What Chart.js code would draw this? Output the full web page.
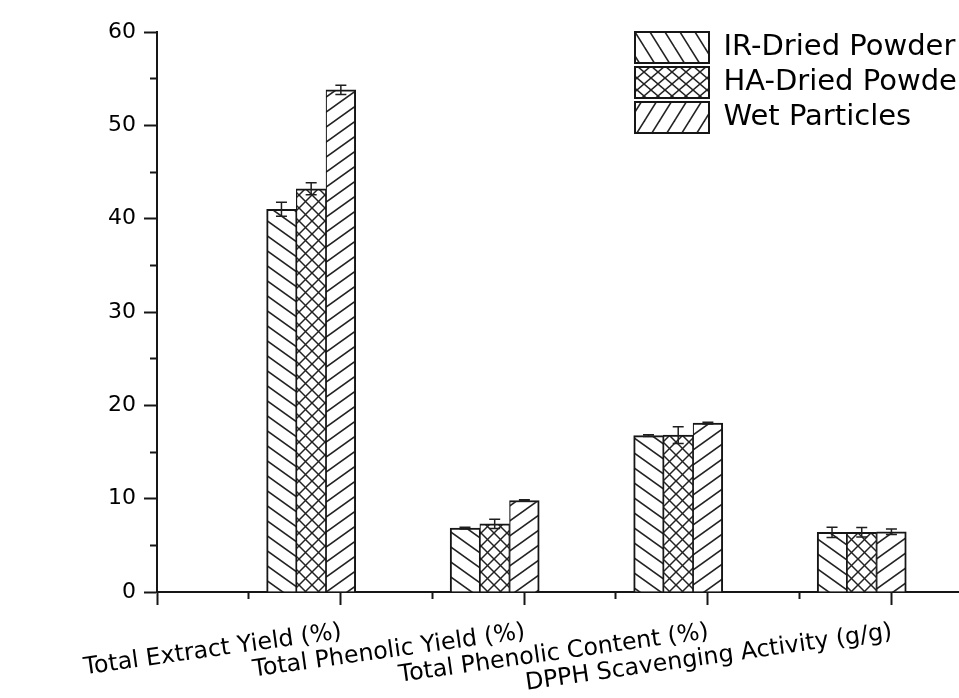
<!DOCTYPE html>
<html><head><meta charset="utf-8">
<script src="https://cdn.jsdelivr.net/npm/chart.js@4.4.0/dist/chart.umd.min.js"></script>
<style>html,body{margin:0;padding:0;background:#fff;overflow:hidden}#wrap{width:959px;height:698px;position:relative}</style>
</head><body><div id="wrap"><canvas id="c" width="959" height="698"></canvas></div>
<script>
// ---- data ----
const categories = ['Total Extract Yield (%)', 'Total Phenolic Yield (%)', 'Total Phenolic Content (%)', 'DPPH Scavenging Activity (g/g)'];
const seriesNames = ['IR-Dried Powder', 'HA-Dried Powder', 'Wet Particles'];
const irValues  = [41.0, 6.85, 16.75, 6.4];
const haValues  = [43.2, 7.3, 16.8, 6.4];
const wetValues = [53.8, 9.8, 18.1, 6.45];
const irErrors  = [0.75, 0.1, 0.1, 0.55];
const haErrors  = [0.65, 0.5, 0.9, 0.5];
const wetErrors = [0.5, 0.08, 0.1, 0.3];
const yMajorTicks = [0, 10, 20, 30, 40, 50, 60];
const yMinorTicks = [5, 15, 25, 35, 45, 55];
const xMajorTicks = [0, 1, 2, 3, 4];
const xMinorTicks = [0.5, 1.5, 2.5, 3.5];

// ---- layout constants ----
const GROUP_SHIFT = 0.16;   // groups sit left of their major tick
const catPos = categories.map((_, i) => i + 1 - GROUP_SHIFT);
const toPts = vals => vals.map((v, i) => ({x: catPos[i], y: v}));

const canvas = document.getElementById('c');
const mainCtx = canvas.getContext('2d');
function hatch(w, h, dirs, lw) {
  const c = document.createElement('canvas'); c.width = w; c.height = h;
  const g = c.getContext('2d');
  g.fillStyle = '#fff'; g.fillRect(0, 0, w, h);
  g.strokeStyle = '#222'; g.lineWidth = lw;
  for (const d of dirs) {
    for (const k of [-1, 0, 1]) {
      g.beginPath();
      if (d === 'b') { g.moveTo(k * w - w, -h); g.lineTo(k * w + 2 * w, 2 * h); }
      else { g.moveTo(k * w - w, 2 * h); g.lineTo(k * w + 2 * w, -h); }
      g.stroke();
    }
  }
  return mainCtx.createPattern(c, 'repeat');
}
const barPatterns = [hatch(21, 15, ['b'], 1.6), hatch(13, 13, ['b', 'f'], 1.5), hatch(21, 15, ['f'], 1.6)];
const legendPatterns = [hatch(15, 24, ['b'], 1.6), hatch(14, 12, ['b', 'f'], 1.5), hatch(15, 24, ['f'], 1.6)];

const values = [irValues, haValues, wetValues];
const errors = [irErrors, haErrors, wetErrors];
const borders = [{top: 2, left: 2, right: 1.2, bottom: 0}, {top: 2, left: 1.2, right: 1.2, bottom: 0}, {top: 2, left: 1.2, right: 2, bottom: 0}];

const errorBars = {
  id: 'errorBars',
  afterDatasetsDraw(chart) {
    const ctx = chart.ctx, ys = chart.scales.y;
    chart.data.datasets.forEach((ds, di) => {
      const meta = chart.getDatasetMeta(di);
      meta.data.forEach((bar, j) => {
        const v = ds.data[j].y, e = ds.errors[j];
        const yt = ys.getPixelForValue(v + e), yb = ys.getPixelForValue(v - e);
        ctx.save();
        ctx.strokeStyle = '#1e1e1e'; ctx.lineWidth = 1.5;
        ctx.beginPath();
        ctx.moveTo(bar.x, yt); ctx.lineTo(bar.x, yb);
        ctx.moveTo(bar.x - 5.5, yt); ctx.lineTo(bar.x + 5.5, yt);
        ctx.moveTo(bar.x - 5.5, yb); ctx.lineTo(bar.x + 5.5, yb);
        ctx.stroke();
        ctx.restore();
      });
    });
  }
};
const legendPlace = {
  id: 'legendPlace',
  afterLayout(chart) {
    const L = chart.legend; if (!L) return;
    const w = L.width, h = L.height;
    L.left = 631; L.top = 28; L.right = L.left + w; L.bottom = L.top + h;
  }
};

Chart.defaults.font.family = 'DejaVu Sans';
Chart.defaults.color = '#000';

new Chart(canvas, {
  type: 'bar',
  data: {
    datasets: seriesNames.map((name, i) => ({
      label: name,
      data: toPts(values[i]),
      errors: errors[i],
      backgroundColor: barPatterns[i],
      borderColor: '#161616',
      borderWidth: borders[i],
      borderSkipped: false,
      barThickness: 29.7
    }))
  },
  options: {
    responsive: false,
    devicePixelRatio: 1,
    animation: false,
    events: [],
    layout: {padding: {top: 32, left: 0, right: 0, bottom: 0}},
    scales: {
      x: {
        type: 'linear', min: 0, max: 4.37, offset: false,
        afterBuildTicks: s => { s.ticks = xMajorTicks.concat(xMinorTicks).sort((a, b) => a - b).map(v => ({value: v})); },
        afterFit: s => { s.height = 106; s.paddingRight = 0; s.paddingLeft = 0; },
        border: {display: true, color: '#161616', width: 2},
        grid: {
          display: true, drawOnChartArea: false, offset: false, tickLength: 13, tickWidth: 2, tickColor: '#161616',
          tickBorderDash: c => (c.tick && xMajorTicks.includes(c.tick.value)) ? [] : [6, 100]
        },
        ticks: {
          autoSkip: false, minRotation: 8, maxRotation: 8, padding: 13, labelOffset: 1, color: '#000',
          font: {family: 'DejaVu Sans', size: 23.7},
          callback: v => (Number.isInteger(v) && v >= 1 && v <= categories.length) ? categories[v - 1] : ''
        }
      },
      y: {
        min: 0, max: 60,
        afterBuildTicks: s => { s.ticks = yMajorTicks.concat(yMinorTicks).sort((a, b) => a - b).map(v => ({value: v})); },
        afterFit: s => { s.width = 157; },
        border: {display: true, color: '#161616', width: 2},
        grid: {
          display: true, drawOnChartArea: false, tickLength: 13, tickWidth: 2, tickColor: '#161616',
          tickBorderDash: c => (c.tick && yMajorTicks.includes(c.tick.value)) ? [] : [0, 6, 7, 100]
        },
        ticks: {
          autoSkip: false, padding: 8, color: '#000', font: {family: 'DejaVu Sans', size: 22},
          callback: v => yMajorTicks.includes(v) ? String(v) : ''
        }
      }
    },
    plugins: {
      tooltip: {enabled: false},
      legend: {
        position: 'chartArea', align: 'start',
        labels: {
          boxWidth: 74, boxHeight: 31, padding: 4, color: '#000',
          font: {family: 'DejaVu Sans', size: 29},
          generateLabels: chart => {
            const items = Chart.defaults.plugins.legend.labels.generateLabels(chart);
            items.forEach((it, i) => { it.fillStyle = legendPatterns[i]; it.strokeStyle = '#161616'; it.lineWidth = 2; });
            return items;
          }
        }
      }
    }
  },
  plugins: [errorBars, legendPlace]
});
</script></body></html>
